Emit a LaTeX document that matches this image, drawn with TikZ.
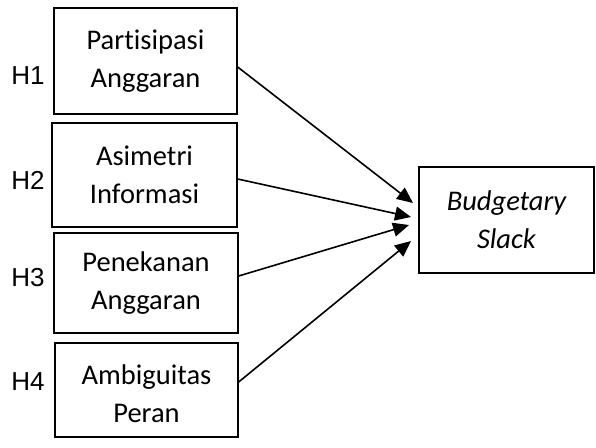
\documentclass[tikz,border=0pt]{standalone}
\usepackage{fontspec}
\setmainfont{Carlito}[Ligatures={NoCommon}]
\newfontfamily\hfont{Liberation Sans}
\usetikzlibrary{arrows.meta}
\begin{document}
\begin{tikzpicture}[x=1pt,y=-1pt,
  box/.style={draw,line width=1.3pt,inner sep=0pt,align=center,
    font=\fontsize{28.5}{38}\selectfont},
  txt/.style={inner sep=0pt,align=center,font=\fontsize{28.5}{38}\selectfont},
  hlab/.style={font=\hfont\fontsize{26}{30}\selectfont,inner sep=0pt},
  arr/.style={line width=1.6pt,-{Triangle[length=16pt,width=14pt]}}]
\useasboundingbox (0,0) rectangle (596,447);
\node[box,minimum width=183pt,minimum height=106pt] (b1) at (145.5,61) {Partisipasi\\Anggaran};
\node[box,minimum width=185pt,minimum height=104pt] (b2) at (144.5,175) {Asimetri\\Informasi};
\node[box,minimum width=184pt,minimum height=100pt] (b3) at (146,283) {Penekanan\\Anggaran};
\node[box,minimum width=183pt,minimum height=94pt] (b4) at (146.5,390) {};
\node[txt] (l4) at ([yshift=-4pt]b4.center) {Ambiguitas\\Peran};
\node[box,minimum width=175pt,minimum height=106pt] (bs) at (506.5,220) {\itshape Budgetary\\\itshape Slack};
\node[hlab] (h1) at (28,76) {H1};
\node[hlab] (h2) at (28,180) {H2};
\node[hlab] (h3) at (28,278) {H3};
\node[hlab] (h4) at (28,382) {H4};
\coordinate (t1) at (413,203);
\coordinate (t2) at (411,217);
\coordinate (t3) at (409,225);
\coordinate (t4) at (411,241);
\draw[arr] ([yshift=-6pt]b1.east) -- (t1);
\draw[arr] ([yshift=-4pt]b2.east) -- (t2);
\draw[arr] ([yshift=7pt]b3.east) -- (t3);
\draw[arr] ([yshift=8pt]b4.east) -- (t4);
\end{tikzpicture}
\end{document}
